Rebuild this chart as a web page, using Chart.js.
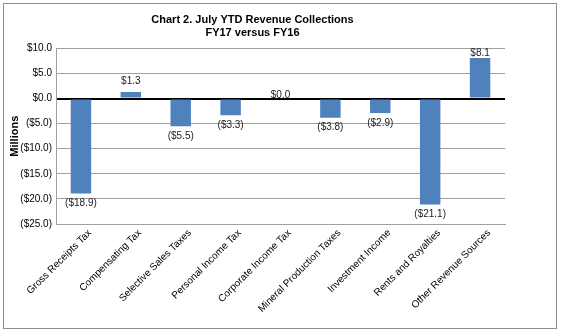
<!DOCTYPE html>
<html>
<head>
<meta charset="utf-8">
<script src="https://cdn.jsdelivr.net/npm/chart.js@4/dist/chart.umd.min.js"></script>
<style>
  html, body { margin: 0; padding: 0; background: #ffffff; }
  #wrap { width: 564px; height: 333px; position: relative; }
</style>
</head>
<body>
<div id="wrap"><canvas id="revenue-chart" width="564" height="333"></canvas></div>
<script>
// Chart data
const categories = [
  'Gross Receipts Tax',
  'Compensating Tax',
  'Selective Sales Taxes',
  'Personal Income Tax',
  'Corporate Income Tax',
  'Mineral Production Taxes',
  'Investment Income',
  'Rents and Royalties',
  'Other Revenue Sources'
];
const changeValues = [-18.9, 1.3, -5.5, -3.3, 0.0, -3.8, -2.9, -21.1, 8.1];
const titleLines = ['Chart 2. July YTD Revenue Collections', 'FY17 versus FY16'];
const yAxisTitle = 'Millions';

const FONT = "'Liberation Sans', Arial, sans-serif";

function money(v) {
  const s = '$' + Math.abs(v).toFixed(1);
  return v < 0 ? '(' + s + ')' : s;
}

// Outer frame around the whole chart
const framePlugin = {
  id: 'frame',
  beforeDraw(chart) {
    const ctx = chart.ctx;
    ctx.save();
    ctx.fillStyle = '#ffffff';
    ctx.fillRect(0, 0, chart.width, chart.height);
    ctx.strokeStyle = '#8c8c8c';
    ctx.lineWidth = 1;
    ctx.strokeRect(3.5, 3.5, 553, 325);
    ctx.restore();
  }
};

// Value labels under negative bars, above positive ones
const valueLabels = {
  id: 'valueLabels',
  afterDatasetsDraw(chart) {
    const ctx = chart.ctx;
    const meta = chart.getDatasetMeta(0);
    const area = chart.chartArea;
    ctx.save();
    ctx.font = '10px ' + FONT;
    ctx.fillStyle = '#222222';
    ctx.textAlign = 'center';
    ctx.textBaseline = 'middle';
    meta.data.forEach((bar, i) => {
      const v = changeValues[i];
      let y;
      if (v < 0) {
        y = bar.y + 10;
      } else if (v === 0) {
        y = bar.y - 3;
      } else {
        y = Math.max(bar.y - 11, area.top + 5);
      }
      ctx.fillText(money(v), bar.x, y);
    });
    ctx.restore();
  }
};

const ctx = document.getElementById('revenue-chart').getContext('2d');
window.revenueChart = new Chart(ctx, {
  type: 'bar',
  data: {
    labels: categories,
    datasets: [
      {
        data: changeValues,
        backgroundColor: '#4f81bd',
        borderWidth: 0,
        barPercentage: 0.41,
        categoryPercentage: 1.0
      }
    ]
  },
  options: {
    responsive: false,
    animation: false,
    layout: {
      padding: { left: 0, right: 59, top: 0, bottom: 0 }
    },
    plugins: {
      legend: { display: false },
      tooltip: { enabled: false },
      title: {
        display: true,
        text: titleLines,
        color: '#000000',
        font: { size: 11, weight: 'bold', family: FONT },
        lineHeight: 1.3,
        padding: { top: 13, bottom: 9 }
      }
    },
    scales: {
      y: {
        min: -25,
        max: 10,
        afterFit(scale) {
          scale.width = 56;
        },
        ticks: {
          stepSize: 5,
          color: '#000000',
          font: { size: 10, family: FONT },
          padding: 4,
          callback: function (value) {
            return money(value);
          }
        },
        grid: {
          color: (c) => (c.tick && c.tick.value === 0 ? '#000000' : '#a0a0a0'),
          lineWidth: (c) => (c.tick && c.tick.value === 0 ? 2 : 1),
          drawTicks: false
        },
        border: { color: '#a0a0a0', width: 1 },
        title: {
          display: true,
          text: yAxisTitle,
          color: '#000000',
          font: { size: 11, weight: 'bold', family: FONT },
          padding: { top: 8, bottom: 0 }
        }
      },
      x: {
        afterFit(scale) {
          scale.height = 109;
        },
        ticks: {
          minRotation: 45,
          maxRotation: 45,
          color: '#000000',
          font: { size: 10, family: FONT },
          labelOffset: 9,
          padding: 3,
          autoSkip: false
        },
        grid: { display: false, drawTicks: false },
        border: { color: '#a0a0a0', width: 1 }
      }
    }
  },
  plugins: [framePlugin, valueLabels]
});
</script>
</body>
</html>
